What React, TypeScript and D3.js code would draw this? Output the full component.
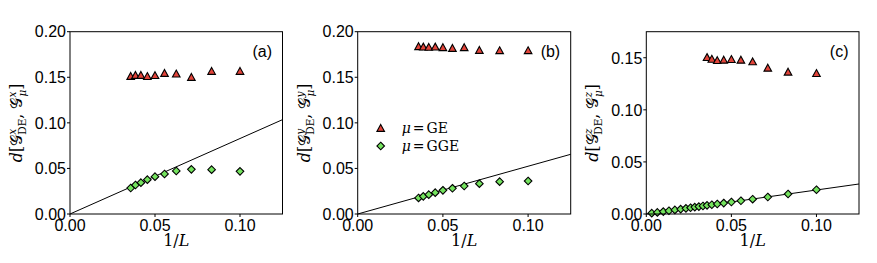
import React from "react";
import * as d3 from "d3";

// inverse system sizes 1/L
const invL = [0.0357, 0.0385, 0.0417, 0.0455, 0.05, 0.0556, 0.0625, 0.0714, 0.0833, 0.1];
const invLc = [0.0032, 0.0065, 0.01, 0.0133, 0.0168, 0.0202, 0.0233, 0.026, 0.0285, 0.0309, 0.0333,
  0.0357, 0.0385, 0.0417, 0.0455, 0.05, 0.0556, 0.0625, 0.0714, 0.0833, 0.1];

const geA = [0.1511, 0.1522, 0.1522, 0.151, 0.152, 0.1544, 0.1537, 0.15, 0.1566, 0.1566];
const ggeA = [0.0285, 0.0318, 0.0344, 0.0377, 0.041, 0.0439, 0.0472, 0.049, 0.0486, 0.0468];
const geB = [0.1837, 0.1833, 0.183, 0.1833, 0.1826, 0.1818, 0.1826, 0.1796, 0.1793, 0.1793];
const ggeB = [0.0176, 0.0194, 0.0212, 0.0234, 0.026, 0.0282, 0.0307, 0.0333, 0.0355, 0.0362];
const geC = [0.1503, 0.1487, 0.1474, 0.1478, 0.1484, 0.1478, 0.1462, 0.1401, 0.1363, 0.135];
const ggeC = [0.0008, 0.0015, 0.0023, 0.0031, 0.0039, 0.0047, 0.0054, 0.006, 0.0066, 0.0071, 0.0077,
  0.0083, 0.0089, 0.0096, 0.0105, 0.0115, 0.0127, 0.0142, 0.0163, 0.0192, 0.0233];

// fit lines: [x0, y0, x1, y1]
const fitA = [0, 0, 0.125, 0.1035];
const fitB = [0, 0, 0.125, 0.0655];
const fitC = [0, 0, 0.125, 0.0288];

const xTicks = [0, 0.05, 0.1];
const yTicksAB = [0, 0.05, 0.1, 0.15, 0.2];
const yTicksC = [0, 0.05, 0.1, 0.15];
const panelTags = ["(a)", "(b)", "(c)"];
const axisSup = ["x", "y", "z"];
const legendLabels = ["GE", "GGE"];

const RED = "#e2443a";
const GREEN = "#74e35e";

const TOP = 31.7;
const BOTTOM = 214;

type Panel = {
  left: number; right: number; yMax: number; yTicks: number[];
  ge: number[]; gge: number[]; ggeX: number[]; fit: number[]; tag: string; sup: string; legend: boolean;
};

const panels: Panel[] = [
  { left: 70, right: 282.5, yMax: 0.2, yTicks: yTicksAB, ge: geA, gge: ggeA, ggeX: invL, fit: fitA, tag: panelTags[0], sup: axisSup[0], legend: false },
  { left: 357.7, right: 570.7, yMax: 0.2, yTicks: yTicksAB, ge: geB, gge: ggeB, ggeX: invL, fit: fitB, tag: panelTags[1], sup: axisSup[1], legend: true },
  { left: 646.3, right: 859, yMax: 0.175, yTicks: yTicksC, ge: geC, gge: ggeC, ggeX: invLc, fit: fitC, tag: panelTags[2], sup: axisSup[2], legend: false },
];

const tri = (cx: number, cy: number) =>
  `M${cx},${cy - 3.8}L${cx + 3.8},${cy + 3.1}L${cx - 3.8},${cy + 3.1}Z`;
const dia = (cx: number, cy: number) =>
  `M${cx},${cy - 3.8}L${cx + 3.8},${cy}L${cx},${cy + 3.8}L${cx - 3.8},${cy}Z`;

const SANS = "'Liberation Sans', Arial, sans-serif";
const SERIF = "'DejaVu Serif', 'Liberation Serif', serif";

function YLabel({ x, y, sup }: { x: number; y: number; sup: string }) {
  return (
    <text transform={`translate(${x},${y}) rotate(-90)`} textAnchor="middle" fontFamily={SERIF} fontSize={16} fill="#000">
      <tspan fontStyle="italic">d</tspan>
      <tspan>[</tspan>
      <tspan>𝒢</tspan>
      <tspan fontSize={10.5} fontStyle="italic" dy={-6}>{sup}</tspan>
      <tspan fontSize={10.5} dx={-6} dy={10}>DE</tspan>
      <tspan dy={-4}>, </tspan>
      <tspan>𝒢</tspan>
      <tspan fontSize={10.5} fontStyle="italic" dy={-6}>{sup}</tspan>
      <tspan fontSize={10.5} fontStyle="italic" dx={-5} dy={10}>μ</tspan>
      <tspan dy={-4}>]</tspan>
    </text>
  );
}

function PanelView({ p }: { p: Panel }) {
  const x = d3.scaleLinear().domain([0, 0.125]).range([p.left, p.right]);
  const y = d3.scaleLinear().domain([0, p.yMax]).range([BOTTOM, TOP]);
  const line = d3.line<[number, number]>().x((d) => x(d[0])).y((d) => y(d[1]));
  const fitPts: [number, number][] = [[p.fit[0], p.fit[1]], [p.fit[2], p.fit[3]]];
  return (
    <g>
      <defs>
        <clipPath id={`clip-${p.tag}`}>
          <rect x={p.left} y={TOP} width={p.right - p.left} height={BOTTOM - TOP} />
        </clipPath>
      </defs>
      <path d={line(fitPts) || ""} stroke="#000" strokeWidth={1} fill="none" clipPath={`url(#clip-${p.tag})`} />
      {p.gge.map((v, i) => (
        <path key={`g${i}`} d={dia(x(p.ggeX[i]), y(v))} fill={GREEN} stroke="#000" strokeWidth={1.1} />
      ))}
      {p.ge.map((v, i) => (
        <path key={`r${i}`} d={tri(x(invL[i]), y(v))} fill={RED} stroke="#000" strokeWidth={1.1} />
      ))}
      <rect x={p.left} y={TOP} width={p.right - p.left} height={BOTTOM - TOP} fill="none" stroke="#000" strokeWidth={1} />
      {xTicks.map((t) => (
        <g key={`xt${t}`}>
          <line x1={x(t)} x2={x(t)} y1={BOTTOM} y2={BOTTOM + 3} stroke="#000" />
          <text x={x(t)} y={231} textAnchor="middle" fontFamily={SANS} fontSize={16}>{d3.format(".2f")(t)}</text>
        </g>
      ))}
      {p.yTicks.map((t) => (
        <g key={`yt${t}`}>
          <line x1={p.left - 3} x2={p.left} y1={y(t)} y2={y(t)} stroke="#000" />
          <text x={p.left - 4} y={y(t)} dy="0.36em" textAnchor="end" fontFamily={SANS} fontSize={16}>{d3.format(".2f")(t)}</text>
        </g>
      ))}
      <text x={p.right - 10.5} y={56.5} textAnchor="end" fontFamily={SANS} fontSize={16}>{p.tag}</text>
      <text x={(p.left + p.right) / 2} y={246} textAnchor="middle" fontFamily={SERIF} fontSize={16}>
        <tspan>1/</tspan><tspan fontStyle="italic">L</tspan>
      </text>
      <YLabel x={p.left - 48} y={(TOP + BOTTOM) / 2} sup={p.sup} />
      {p.legend && (
        <g>
          <path d={tri(p.left + 23, 128.3)} fill={RED} stroke="#000" strokeWidth={1.1} />
          <path d={dia(p.left + 23, 146)} fill={GREEN} stroke="#000" strokeWidth={1.1} />
          {legendLabels.map((lab, i) => (
            <text key={lab} x={p.left + 44} y={133 + i * 17.7} fontFamily={SERIF} fontSize={14}>
              <tspan fontStyle="italic">μ</tspan>
              <tspan dx={2}>=</tspan>
              <tspan dx={2}>{lab}</tspan>
            </text>
          ))}
        </g>
      )}
    </g>
  );
}

export default function App() {
  return (
    <svg width={877} height={263} style={{ position: "absolute", left: 0, top: 0, background: "#fff" }}>
      <rect width={877} height={263} fill="#fff" />
      {panels.map((p) => <PanelView key={p.tag} p={p} />)}
    </svg>
  );
}
